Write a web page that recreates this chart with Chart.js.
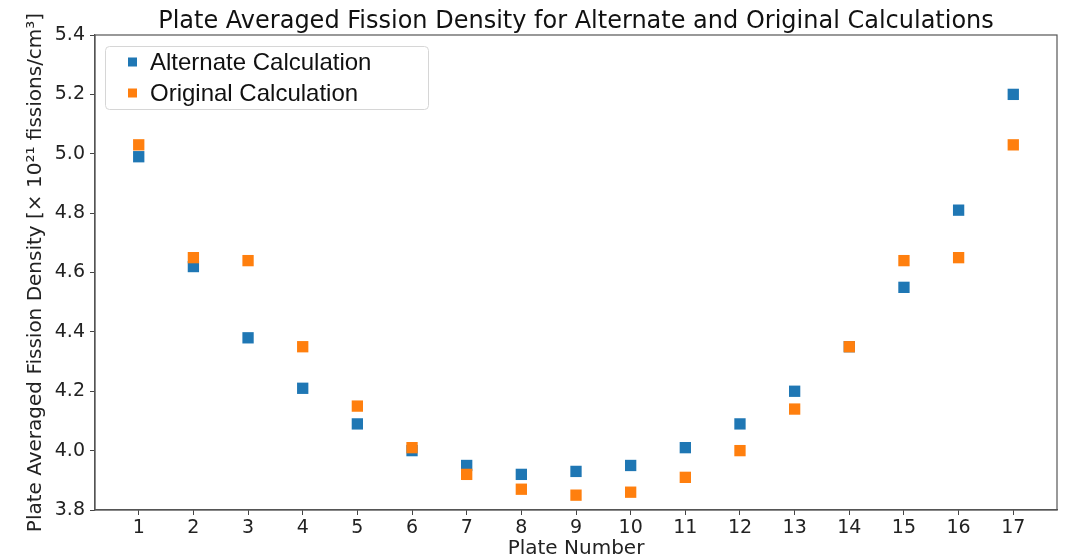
<!DOCTYPE html>
<html>
<head>
<meta charset="utf-8">
<script src="https://cdn.jsdelivr.net/npm/chart.js@4/dist/chart.umd.min.js"></script>
<style>
html,body{margin:0;padding:0;background:#fff;}
#wrap{position:relative;width:1066px;height:559px;}
</style>
</head>
<body>
<div id="wrap"><canvas id="c" width="1066" height="559"></canvas></div>
<script>
const plates = [1,2,3,4,5,6,7,8,9,10,11,12,13,14,15,16,17];
const alternate = [4.99,4.62,4.38,4.21,4.09,4.00,3.95,3.92,3.93,3.95,4.01,4.09,4.20,4.35,4.55,4.81,5.20];
const original  = [5.03,4.65,4.64,4.35,4.15,4.01,3.92,3.87,3.85,3.86,3.91,4.00,4.14,4.35,4.64,4.65,5.03];
const seriesNames = ['Alternate Calculation','Original Calculation'];
const seriesColors = ['#1f77b4','#ff7f0e'];
const titleText = 'Plate Averaged Fission Density for Alternate and Original Calculations';
const xTitle = 'Plate Number';
const yTitle = 'Plate Averaged Fission Density [× 10²¹ fissions/cm³]';

const FONT = "'DejaVu Sans', sans-serif";

const overlay = {
  id: 'overlay',
  afterDraw(chart) {
    const {ctx, chartArea: a} = chart;
    ctx.save();
    // frame
    ctx.strokeStyle = '#555';
    ctx.lineWidth = 1.2;
    ctx.strokeRect(a.left, a.top, a.right - a.left, a.bottom - a.top);
    // title
    ctx.fillStyle = '#111';
    ctx.font = '24px ' + FONT;
    ctx.textAlign = 'center';
    ctx.textBaseline = 'alphabetic';
    ctx.fillText(titleText, (a.left + a.right) / 2, 28);
    // legend
    const lx = 105.5, ly = 46.5, lw = 323, lh = 63, r = 4;
    ctx.beginPath();
    ctx.moveTo(lx + r, ly);
    ctx.arcTo(lx + lw, ly, lx + lw, ly + lh, r);
    ctx.arcTo(lx + lw, ly + lh, lx, ly + lh, r);
    ctx.arcTo(lx, ly + lh, lx, ly, r);
    ctx.arcTo(lx, ly, lx + lw, ly, r);
    ctx.closePath();
    ctx.fillStyle = 'rgba(255,255,255,0.85)';
    ctx.fill();
    ctx.strokeStyle = '#d6d6d6';
    ctx.lineWidth = 1;
    ctx.stroke();
    ctx.font = '24px "Liberation Sans", Arial, sans-serif';
    ctx.textAlign = 'left';
    ctx.textBaseline = 'middle';
    const rows = [62, 93];
    chart.data.datasets.forEach((ds, i) => {
      ctx.fillStyle = ds.backgroundColor;
      ctx.fillRect(128, rows[i] - 4.5, 9, 9);
      ctx.fillStyle = '#111';
      ctx.fillText(ds.label, 150, rows[i] + 1);
    });
    ctx.restore();
  }
};

const mk = (arr) => plates.map((p, i) => ({x: p, y: arr[i]}));

new Chart(document.getElementById('c'), {
  type: 'scatter',
  data: {
    datasets: [
      {label: seriesNames[0], data: mk(alternate), backgroundColor: seriesColors[0], borderColor: seriesColors[0],
       pointStyle: 'rect', pointRadius: 8, pointBorderWidth: 0, order: 1},
      {label: seriesNames[1], data: mk(original), backgroundColor: seriesColors[1], borderColor: seriesColors[1],
       pointStyle: 'rect', pointRadius: 8, pointBorderWidth: 0, order: 0}
    ]
  },
  options: {
    responsive: false,
    animation: false,
    events: [],
    layout: {padding: {top: 35, right: 9, left: 0, bottom: 0}},
    plugins: {legend: {display: false}, title: {display: false}, tooltip: {enabled: false}},
    scales: {
      x: {
        type: 'linear', min: 0.2, max: 17.8,
        afterBuildTicks: (s) => { s.ticks = plates.map(v => ({value: v})); },
        afterFit: (s) => { s.height = 49; },
        grid: {drawOnChartArea: false, drawTicks: true, tickLength: 5, tickColor: '#444'},
        border: {display: true, color: '#555', width: 1.2},
        ticks: {color: '#222', font: {family: FONT, size: 19}, padding: 2, autoSkip: false, maxRotation: 0,
                callback: (v) => String(v)},
        title: {display: true, text: xTitle, color: '#222', font: {family: FONT, size: 20}, padding: {top: 0, bottom: -2}}
      },
      y: {
        type: 'linear', min: 3.8, max: 5.4,
        ticks: {stepSize: 0.2, color: '#222', font: {family: FONT, size: 19}, padding: 5,
                callback: (v) => Number(v).toFixed(1)},
        afterFit: (s) => { s.width = 95; },
        grid: {drawOnChartArea: false, drawTicks: true, tickLength: 5, tickColor: '#444'},
        border: {display: true, color: '#555', width: 1.2},
        title: {display: true, text: yTitle, color: '#222', font: {family: FONT, size: 20}, padding: {top: 24, bottom: 0}}
      }
    }
  },
  plugins: [overlay]
});
</script>
</body>
</html>
